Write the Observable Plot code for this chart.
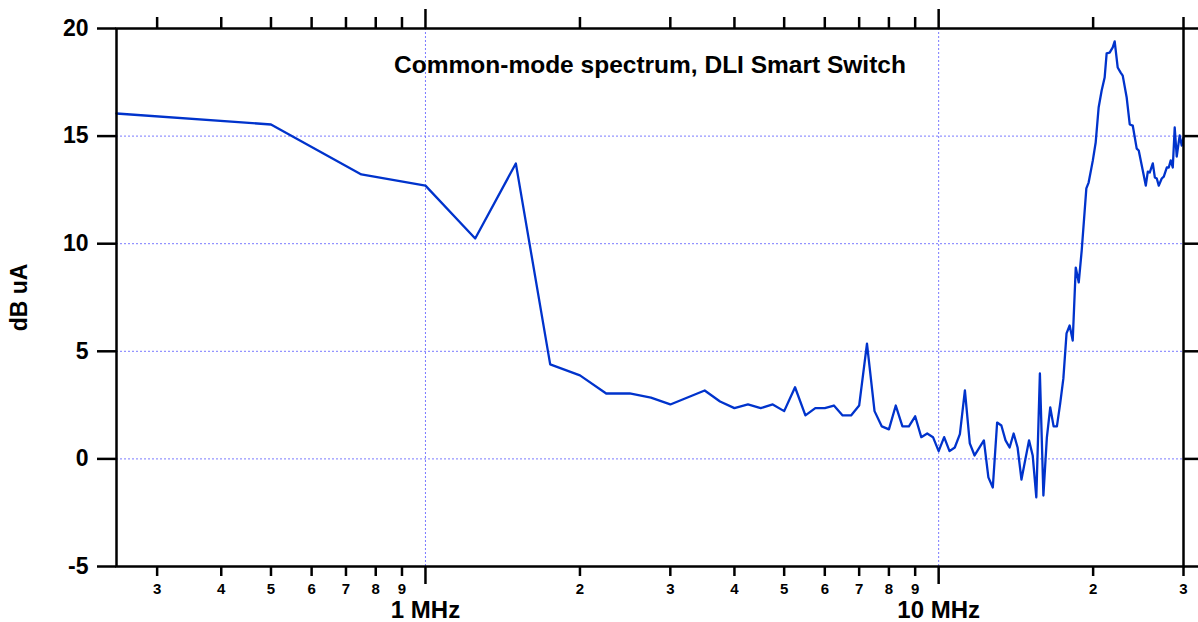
<!DOCTYPE html>
<html>
<head>
<meta charset="utf-8">
<script src="https://cdn.jsdelivr.net/npm/d3@7"></script>
<script src="https://cdn.jsdelivr.net/npm/@observablehq/plot@0.6"></script>
<style>
  html, body { margin: 0; padding: 0; background: #fff; overflow: hidden; }
</style>
</head>
<body>
<div id="chart"></div>
<script>
const title = "Common-mode spectrum, DLI Smart Switch";
const yLabel = "dB uA";

// Frequency (MHz) and level (dB uA)
const freqMHz = [
  0.25, 0.5, 0.75, 1.0, 1.25, 1.5, 1.75, 2.0, 2.25, 2.5, 2.75, 3.0,
  3.5, 3.75, 4.0, 4.25, 4.5, 4.75, 5.0, 5.25, 5.5, 5.75, 6.0, 6.25,
  6.5, 6.75, 7.0, 7.25, 7.5, 7.75, 8.0, 8.25, 8.5, 8.75, 9.0, 9.25,
  9.5, 9.75, 10.0, 10.25, 10.5, 10.75, 11.0, 11.25, 11.5, 11.75, 12.25, 12.5,
  12.75, 13.0, 13.25, 13.5, 13.75, 14.0, 14.25, 14.5, 15.0, 15.25, 15.5, 15.75,
  16.0, 16.25, 16.5, 16.75, 17.0, 17.25, 17.5, 17.75, 18.0, 18.25, 18.5, 18.75,
  19.0, 19.4, 19.6, 19.97, 20.23, 20.5, 20.78, 21.06, 21.25, 21.54, 21.84, 22.03,
  22.33, 22.63, 22.84, 23.25, 23.57, 23.89, 24.32, 24.54, 24.99, 25.33, 25.56, 25.79,
  26.14, 26.38, 26.61, 26.85, 27.21, 27.46, 27.83, 28.08, 28.33, 28.59, 28.84, 29.1,
  29.49, 29.76, 30.0
];
const levelDb = [
  16.05, 15.54, 13.22, 12.70, 10.24, 13.73, 4.39, 3.88, 3.04, 3.04, 2.85, 2.53,
  3.18, 2.67, 2.36, 2.53, 2.36, 2.53, 2.22, 3.33, 2.02, 2.36, 2.36, 2.48,
  2.02, 2.02, 2.48, 5.36, 2.22, 1.51, 1.37, 2.48, 1.51, 1.51, 1.98, 1.01,
  1.18, 1.01, 0.36, 1.01, 0.36, 0.53, 1.15, 3.18, 0.72, 0.16, 0.86, -0.86,
  -1.33, 1.69, 1.55, 0.86, 0.53, 1.18, 0.53, -0.96, 0.86, 0.16, -1.79, 3.97,
  -1.70, 0.99, 2.39, 1.51, 1.51, 2.57, 3.74, 5.83, 6.20, 5.50, 8.89, 8.20,
  9.68, 12.57, 12.84, 13.86, 14.70, 16.33, 17.12, 17.72, 18.84, 18.88, 19.12, 19.40,
  18.19, 17.95, 17.81, 16.79, 15.54, 15.49, 14.42, 14.33, 13.40, 12.70, 13.35, 13.31,
  13.73, 13.08, 13.03, 12.70, 13.03, 13.12, 13.54, 13.54, 13.87, 13.54, 15.40, 14.05,
  15.03, 14.56, 14.93
];

const yTicks = [-5, 0, 5, 10, 15, 20];
const yTickLabels = ["-5", "0", "5", "10", "15", "20"];
const yGrid = [0, 5, 10, 15];
const xMajorTicks = [1, 10];
const xMajorLabels = ["1 MHz", "10 MHz"];
const xMinorTicks = [0.3, 0.4, 0.5, 0.6, 0.7, 0.8, 0.9, 2, 3, 4, 5, 6, 7, 8, 9, 20, 30];
const xMinorLabels = ["3", "4", "5", "6", "7", "8", "9", "2", "3", "4", "5", "6", "7", "8", "9", "2", "3"];

const data = freqMHz.map((f, i) => ({f, v: levelDb[i]}));

const gridColor = "#7a7aff";
const axisW = 2.5;

const chart = Plot.plot({
  width: 1198,
  height: 622,
  marginLeft: 116,
  marginRight: 15,
  marginTop: 28,
  marginBottom: 56,
  style: {fontFamily: "'Liberation Sans', Arial, sans-serif", fontWeight: "bold", color: "black", background: "white", overflow: "visible"},
  x: {type: "log", domain: [0.25, 30]},
  y: {domain: [-5, 20]},
  marks: [
    Plot.gridY(yGrid, {stroke: gridColor, strokeOpacity: 1, strokeWidth: 1, strokeDasharray: "2,2"}),
    Plot.gridX(xMajorTicks, {stroke: gridColor, strokeOpacity: 1, strokeWidth: 1, strokeDasharray: "2,2", tickSpacing: 1}),
    Plot.line(data, {x: "f", y: "v", stroke: "#0033cc", strokeWidth: 2.3, strokeLinejoin: "round"}),
    Plot.frame({stroke: "black", strokeWidth: axisW}),
    Plot.axisY(yTicks, {anchor: "left", tickSize: 19, tickPadding: 9, fontSize: 23, fontWeight: "bold", strokeWidth: axisW, label: null,
      tickFormat: (d) => yTickLabels[yTicks.indexOf(d)]}),
    Plot.axisY(yTicks, {anchor: "right", tickSize: 19, tickFormat: () => "", strokeWidth: axisW, label: null}),
    Plot.axisX(xMinorTicks, {anchor: "bottom", tickSpacing: 1, tickSize: 10, tickPadding: 7, fontSize: 15, fontWeight: "bold", strokeWidth: axisW, label: null,
      tickFormat: (d) => xMinorLabels[xMinorTicks.indexOf(d)]}),
    Plot.axisX(xMajorTicks, {anchor: "bottom", tickSpacing: 1, tickSize: 18, tickPadding: 16, fontSize: 24, fontWeight: "bold", strokeWidth: axisW, label: null,
      tickFormat: (d) => xMajorLabels[xMajorTicks.indexOf(d)]}),
    Plot.axisX(xMinorTicks, {anchor: "top", tickSpacing: 1, tickSize: 12, tickFormat: () => "", strokeWidth: axisW, label: null}),
    Plot.axisX(xMajorTicks, {anchor: "top", tickSpacing: 1, tickSize: 20, tickFormat: () => "", strokeWidth: axisW, label: null}),
    Plot.text([title], {frameAnchor: "top", dy: 27, fontSize: 24.5, fontWeight: "bold", fill: "black"}),
    Plot.text([yLabel], {frameAnchor: "left", dx: -97, rotate: -90, textAnchor: "middle", fontSize: 23, fontWeight: "bold", fill: "black"})
  ]
});
document.getElementById("chart").appendChild(chart);
</script>
</body>
</html>
